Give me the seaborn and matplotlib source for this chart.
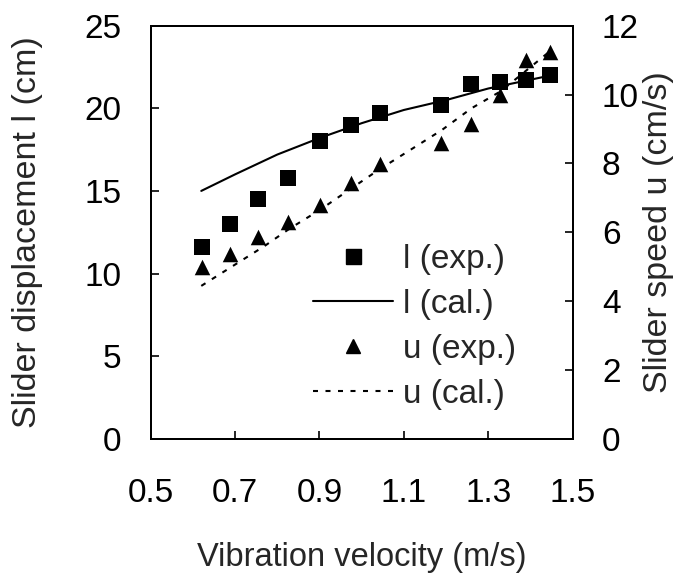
import numpy as np
import pandas as pd
import matplotlib
matplotlib.use("Agg")
import matplotlib.pyplot as plt
import seaborn as sns
from matplotlib.lines import Line2D

# ---- data ----
v_exp = [0.621, 0.688, 0.755, 0.825, 0.901, 0.975, 1.043, 1.189, 1.260, 1.328, 1.389, 1.446]
l_exp = [11.6, 13.0, 14.5, 15.8, 18.0, 19.0, 19.7, 20.2, 21.5, 21.6, 21.7, 22.0]
u_exp = [4.98, 5.38, 5.87, 6.31, 6.79, 7.42, 7.98, 8.60, 9.14, 9.99, 11.00, 11.24]

v_lcal = [0.62, 0.70, 0.80, 0.90, 1.00, 1.10, 1.20, 1.30, 1.45]
l_cal = [15.0, 16.0, 17.2, 18.2, 19.1, 19.9, 20.5, 21.2, 22.0]

v_ucal = [0.62, 0.77, 0.83, 0.90, 0.975, 1.04, 1.19, 1.26, 1.33, 1.45]
u_cal = [4.44, 5.60, 6.11, 6.64, 7.27, 7.81, 8.97, 9.60, 10.10, 11.30]

x_ticks = [0.5, 0.7, 0.9, 1.1, 1.3, 1.5]
l_ticks = [0, 5, 10, 15, 20, 25]
u_ticks = [0, 2, 4, 6, 8, 10, 12]

labels = ["l (exp.)", "l (cal.)", "u (exp.)", "u (cal.)"]

sns.set_style("ticks")
plt.rcParams['font.family'] = ['Liberation Sans', 'DejaVu Sans']
FS_TICK = 24
FS_X = 23.5
FS_Y = 24.5
FS_LEG = 24

fig = plt.figure(figsize=(6.76, 5.79), dpi=100)
ax = fig.add_axes([0.2228, 0.2423, 0.8473 - 0.2228, 0.9556 - 0.2423])
ax2 = ax.twinx()

df_exp = pd.DataFrame({"v": v_exp, "l": l_exp, "u": u_exp})
df_l = pd.DataFrame({"v": v_lcal, "l": l_cal})
df_u = pd.DataFrame({"v": v_ucal, "u": u_cal})

sns.lineplot(data=df_l, x="v", y="l", ax=ax, color="black", lw=1.5,
             sort=False, estimator=None, legend=False)
sns.scatterplot(data=df_exp, x="v", y="l", ax=ax, marker="s", s=118,
                color="black", linewidth=0, legend=False, zorder=3)
sns.lineplot(data=df_u, x="v", y="u", ax=ax2, color="black", lw=1.5,
             sort=False, estimator=None, legend=False)
ax2.lines[-1].set_linestyle((0, (2.4, 3.6)))
sns.scatterplot(data=df_exp, x="v", y="u", ax=ax2, marker="^", s=125,
                color="black", linewidth=0, legend=False, zorder=3)

ax.set_xlim(0.5, 1.5)
ax.set_ylim(0, 25)
ax2.set_ylim(0, 12)
ax.set_xticks(x_ticks)
ax.set_xticklabels([f"{t:.1f}" for t in x_ticks])
ax.set_yticks(l_ticks)
ax.set_yticklabels([str(t) for t in l_ticks])
ax2.set_yticks(u_ticks)
ax2.set_yticklabels([str(t) for t in u_ticks])

for a in (ax, ax2):
    for s in a.spines.values():
        s.set_visible(True)
        s.set_linewidth(1.4)
        s.set_color("black")
ax.tick_params(axis="both", direction="in", length=6, width=1.2,
               labelsize=FS_TICK, colors="black")
ax.tick_params(axis="x", pad=28)
ax.tick_params(axis="y", pad=21, right=False)
ax2.tick_params(axis="y", direction="in", length=6, width=1.2,
                labelsize=FS_TICK, pad=21, colors="black")

ax.set_xlabel("Vibration velocity (m/s)", fontsize=FS_X, labelpad=24)
ax.set_ylabel("Slider displacement l (cm)", fontsize=FS_Y, labelpad=30)
ax2.set_ylabel("Slider speed u (cm/s)", fontsize=FS_Y, labelpad=3)

handles = [
    Line2D([], [], marker="s", color="black", ls="none", markersize=10.8),
    Line2D([], [], color="black", lw=1.5),
    Line2D([], [], marker="^", color="black", ls="none", markersize=10.5),
    Line2D([], [], color="black", lw=1.5, ls=(0, (2.4, 3.6))),
]
leg = ax2.legend(handles, labels, loc="lower left", bbox_to_anchor=(0.385, 0.07),
                 frameon=False, fontsize=FS_LEG, handlelength=2.4, handletextpad=0.3,
                 labelspacing=0.42, borderpad=0, borderaxespad=0)

fig.savefig("out.png", dpi=100)
